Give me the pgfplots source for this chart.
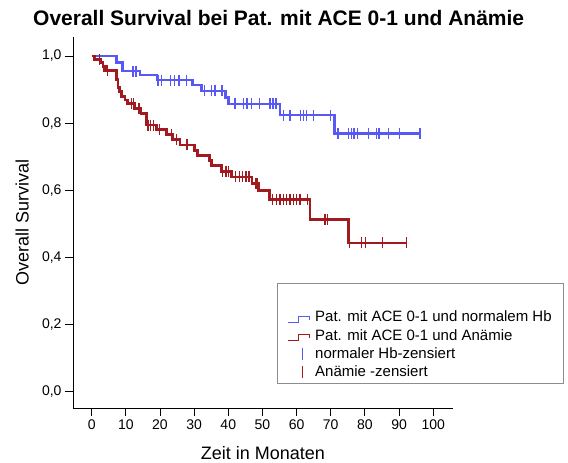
\documentclass[border=0pt]{standalone}
\usepackage{pgfplots}
\pgfplotsset{compat=1.18}
\usepackage{fontspec}
\setmainfont{Liberation Sans}
\definecolor{kmblue}{RGB}{88,88,245}
\definecolor{kmred}{RGB}{160,26,32}
\begin{document}
\begin{tikzpicture}
\path (-73pt,-54pt) rectangle (495pt,408pt);
\begin{axis}[
  at={(0pt,0pt)}, anchor=south west,
  scale only axis, width=380pt, height=371pt,
  xmin=-5.47, xmax=105.8, ymin=-0.0486, ymax=1.0566,
  axis lines=left, axis line style={-, line width=0.9pt},
  tick align=outside, major tick length=8pt,
  tick style={line width=0.8pt, black},
  xtick={0,10,...,100}, ytick={0,0.2,0.4,0.6,0.8,1.0},
  ticklabel style={font=\fontsize{14}{16}\selectfont},
  /pgf/number format/.cd, use comma, fixed, fixed zerofill, precision=1, assume math mode=true,
  /pgfplots/.cd,
  xticklabel style={/pgf/number format/precision=0, /pgf/number format/fixed zerofill=false},
  xlabel={Zeit in Monaten}, ylabel={Overall Survival},
  label style={font=\fontsize{18}{20}\selectfont},
  xlabel style={at={(axis description cs:0.5,0)}, anchor=center, yshift=-45pt},
  ylabel style={at={(axis description cs:-0.134,0.5)}, anchor=center},
  legend style={at={(axis description cs:0.537,0.337)}, anchor=north west,
    draw=black!45, line width=0.6pt, font=\fontsize{15}{17}\selectfont,
    inner xsep=10pt, inner ysep=3pt, row sep=2pt, column sep=3pt},
  legend cell align=left,
]
\addlegendimage{empty legend}\addlegendentry{\rule[-8pt]{0pt}{23pt}}
\addplot[const plot, kmblue, line width=2.6pt,
  legend image code/.code={\draw[kmblue, line width=0.8pt] (0pt,-5pt) -- (11pt,-5pt) -- (11pt,1pt) -- (22pt,1pt) -- (22pt,-3pt);}]
coordinates {(0,1.0) (7.2,0.980) (9.0,0.955) (14.1,0.943) (19.1,0.928) (29.5,0.913) (32.2,0.896) (39.2,0.876) (40.1,0.857) (55.1,0.824) (71.1,0.769) (96.1,0.769)};
\addlegendentry{Pat. mit ACE 0-1 und normalem Hb}
\addplot[const plot, kmred, line width=2.6pt,
  legend image code/.code={\draw[kmred, line width=0.8pt] (0pt,-5pt) -- (11pt,-5pt) -- (11pt,1pt) -- (22pt,1pt) -- (22pt,-3pt);}]
coordinates {(0,1.0) (0.9,0.990) (2.6,0.980) (3.3,0.968) (4.0,0.956) (7.2,0.930) (7.7,0.906) (8.2,0.894) (8.7,0.879) (9.7,0.869) (10.5,0.859) (12.6,0.844) (14.5,0.829) (16.0,0.794) (19.0,0.781) (21.9,0.767) (23.6,0.751) (25.9,0.735) (30.1,0.719) (31.0,0.704) (34.5,0.688) (35.1,0.673) (38.0,0.656) (40.9,0.640) (47.0,0.621) (48.9,0.600) (52.0,0.572) (63.9,0.513) (75.2,0.443) (92.1,0.443)};
\addlegendentry{Pat. mit ACE 0-1 und Anämie}
\addplot[only marks, mark=|, mark size=5.5pt, mark options={kmblue, line width=1.3pt},
  legend image code/.code={\draw[kmblue, line width=0.8pt] (15pt,-6pt) -- (15pt,6pt);}]
coordinates {(12.1,0.955) (13.0,0.955) (19.4,0.928) (20.4,0.928) (23.1,0.928) (24.2,0.928) (25.6,0.928) (27.8,0.928) (33.1,0.896) (35.1,0.896) (36.1,0.896) (38.2,0.896) (42.0,0.857) (44.4,0.857) (45.5,0.857) (46.8,0.857) (49.1,0.857) (52.2,0.857) (53.1,0.857) (54.0,0.857) (56.1,0.824) (58.1,0.824) (61.2,0.824) (62.1,0.824) (62.9,0.824) (65.0,0.824) (69.9,0.824) (72.1,0.769) (75.2,0.769) (76.0,0.769) (76.8,0.769) (77.9,0.769) (81.0,0.769) (83.3,0.769) (84.1,0.769) (87.0,0.769) (90.1,0.769) (96.1,0.769)};
\addlegendentry{normaler Hb-zensiert}
\addplot[only marks, mark=|, mark size=5.5pt, mark options={kmred, line width=1.3pt},
  legend image code/.code={\draw[kmred, line width=0.8pt] (15pt,-6pt) -- (15pt,6pt);}]
coordinates {(2.2,0.990) (3.5,0.968) (4.6,0.956) (7.9,0.906) (11.6,0.859) (12.3,0.859) (13.9,0.844) (16.5,0.794) (17.3,0.794) (18.0,0.794) (19.9,0.781) (23.3,0.767) (24.8,0.751) (27.9,0.735) (34.8,0.688) (38.4,0.656) (39.3,0.656) (40.1,0.656) (42.2,0.640) (43.2,0.640) (44.2,0.640) (45.2,0.640) (46.1,0.640) (47.9,0.621) (48.4,0.621) (53.0,0.572) (54.2,0.572) (55.1,0.572) (56.1,0.572) (57.1,0.572) (58.1,0.572) (59.0,0.572) (60.0,0.572) (61.0,0.572) (63.1,0.572) (68.3,0.513) (69.1,0.513) (75.4,0.443) (79.1,0.443) (80.1,0.443) (85.2,0.443) (92.1,0.443)};
\addlegendentry{Anämie -zensiert}
\end{axis}
\node[anchor=base west, font=\bfseries\fontsize{21}{24}\selectfont, inner sep=0pt] at (-40pt,382pt) {Overall Survival bei Pat. mit ACE 0-1 und Anämie};
\end{tikzpicture}
\end{document}
